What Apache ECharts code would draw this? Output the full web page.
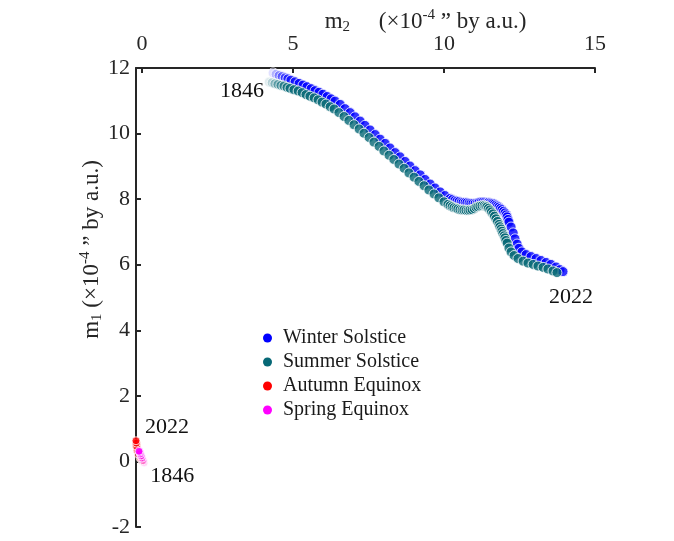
<!DOCTYPE html>
<html>
<head>
<meta charset="utf-8">
<title>Polar motion components m1 / m2</title>
<script src="https://cdn.jsdelivr.net/npm/echarts@6/dist/echarts.min.js"></script>
<style>
  html, body { margin: 0; padding: 0; background: #ffffff; }
  #chart { width: 674px; height: 541px; }
</style>
</head>
<body>
<div id="chart"></div>
<script>
// Solstice tracks, 1846 -> 2022 (m2, m1 in units of 1e-4 arcsec by a.u.)
var winterM2 = [4.34, 4.44, 4.54, 4.64, 4.74, 4.83, 4.93, 5.07, 5.20, 5.33, 5.46, 5.60, 5.73, 5.86, 5.99, 6.13, 6.26, 6.39,
  6.56, 6.72, 6.89, 7.05, 7.22, 7.38, 7.55, 7.72, 7.88, 8.05, 8.21, 8.38, 8.54, 8.71, 8.87, 9.04, 9.21, 9.37, 9.54, 9.70, 9.87, 10.03,
  10.20, 10.28, 10.36, 10.43, 10.50, 10.57, 10.63, 10.70, 10.76, 10.83, 10.89, 10.96, 11.03, 11.10, 11.16, 11.23, 11.29, 11.36,
  11.42, 11.47, 11.52, 11.57, 11.62, 11.67, 11.72, 11.77, 11.82, 11.87, 11.92, 11.97, 12.02, 12.06, 12.09, 12.12, 12.15,
  12.22, 12.29, 12.35, 12.42, 12.48, 12.58, 12.72, 12.88, 13.05, 13.21, 13.38, 13.54, 13.71, 13.84, 13.94];
var winterM1 = [11.85, 11.81, 11.77, 11.74, 11.70, 11.67, 11.63, 11.58, 11.53, 11.48, 11.43, 11.37, 11.31, 11.26, 11.20, 11.13, 11.06, 10.99,
  10.89, 10.76, 10.64, 10.51, 10.38, 10.25, 10.11, 9.97, 9.83, 9.70, 9.56, 9.42, 9.29, 9.15, 9.01, 8.87, 8.74, 8.60, 8.46, 8.34, 8.22, 8.11,
  8.02, 7.99, 7.96, 7.94, 7.93, 7.91, 7.90, 7.90, 7.89, 7.88, 7.87, 7.87, 7.87, 7.88, 7.90, 7.91, 7.91, 7.91,
  7.90, 7.90, 7.89, 7.88, 7.87, 7.85, 7.82, 7.79, 7.76, 7.72, 7.68, 7.63, 7.58, 7.52, 7.46, 7.38, 7.30,
  7.15, 6.97, 6.79, 6.63, 6.50, 6.39, 6.31, 6.25, 6.19, 6.13, 6.07, 6.01, 5.93, 5.85, 5.79];

var summerM2 = [4.21, 4.31, 4.40, 4.50, 4.60, 4.70, 4.80, 4.90, 5.03, 5.17, 5.30, 5.43, 5.56, 5.70, 5.83, 5.96, 6.09, 6.23, 6.36,
  6.52, 6.69, 6.85, 7.02, 7.19, 7.35, 7.52, 7.68, 7.85, 8.01, 8.18, 8.34, 8.51, 8.68, 8.84, 9.01, 9.17, 9.34, 9.50, 9.67, 9.83, 10.00,
  10.13, 10.20, 10.27, 10.33, 10.40, 10.46, 10.53, 10.60, 10.66, 10.73, 10.80, 10.86, 10.93, 11.00, 11.06, 11.12, 11.19, 11.26,
  11.33, 11.38, 11.42, 11.47, 11.52, 11.57, 11.62, 11.67, 11.72, 11.77, 11.82, 11.85, 11.89, 11.92, 11.95, 11.99, 12.02, 12.05, 12.09,
  12.15, 12.22, 12.32, 12.45, 12.62, 12.78, 12.95, 13.11, 13.28, 13.44, 13.61, 13.74];
var summerM1 = [11.57, 11.55, 11.52, 11.50, 11.47, 11.45, 11.41, 11.38, 11.34, 11.30, 11.25, 11.19, 11.14, 11.09, 11.03, 10.96, 10.90, 10.82, 10.75,
  10.64, 10.52, 10.40, 10.27, 10.14, 10.01, 9.88, 9.74, 9.61, 9.47, 9.34, 9.21, 9.07, 8.94, 8.80, 8.67, 8.54, 8.41, 8.28, 8.16, 8.04, 7.92,
  7.84, 7.80, 7.77, 7.74, 7.72, 7.70, 7.68, 7.67, 7.67, 7.66, 7.66, 7.67, 7.68, 7.71, 7.75, 7.77, 7.79, 7.80,
  7.80, 7.78, 7.76, 7.72, 7.67, 7.61, 7.55, 7.48, 7.40, 7.32, 7.23, 7.16, 7.09, 7.02, 6.95, 6.88, 6.82, 6.74, 6.66,
  6.51, 6.39, 6.28, 6.19, 6.11, 6.05, 6.01, 5.96, 5.92, 5.87, 5.81, 5.76];

// Equinox tracks, clustered near the origin
var autumnM2 = [0.06, 0.00, -0.06, -0.12, -0.16, -0.18, -0.19, -0.20];
var autumnM1 = [-0.02, 0.01, 0.10, 0.22, 0.34, 0.46, 0.56, 0.63];
var springM2 = [0.07, 0.04, 0.00, -0.03, -0.06, -0.08, -0.10];
var springM1 = [-0.05, 0.02, 0.10, 0.17, 0.23, 0.28, 0.31];

var seriesNames = ['Winter Solstice', 'Summer Solstice', 'Autumn Equinox', 'Spring Equinox'];
var xTicks = [0, 5, 10, 15];
var yTicks = [-2, 0, 2, 4, 6, 8, 10, 12];
var firstYear = '1846';
var lastYear = '2022';

var FONT = "'Times New Roman', 'Liberation Serif', serif";
var INK = '#262626';

function pairs(xs, ys) {
  return xs.map(function (x, i) { return [x, ys[i]]; });
}

// Early points are drawn faded, later ones fully opaque.
function fadingColor(rgb, step) {
  return function (p) {
    var a = Math.min(1, 0.15 + step * p.dataIndex);
    return 'rgba(' + rgb[0] + ',' + rgb[1] + ',' + rgb[2] + ',' + a.toFixed(3) + ')';
  };
}

function yearMark(xs, ys, idx, text, offset) {
  return {
    coord: [xs[idx], ys[idx]],
    label: { formatter: text, offset: offset }
  };
}

var markBase = {
  symbol: 'circle',
  symbolSize: 1,
  silent: true,
  itemStyle: { color: 'rgba(0,0,0,0)', borderWidth: 0 },
  label: { show: true, position: 'inside', fontSize: 22, fontFamily: FONT, color: '#111111' }
};

function scatter(name, xs, ys, rgb, size, step, marks) {
  var s = {
    name: name,
    type: 'scatter',
    clip: false,
    symbol: 'circle',
    symbolSize: size,
    data: pairs(xs, ys),
    itemStyle: {
      color: fadingColor(rgb, step),
      borderColor: '#ffffff',
      borderWidth: 1
    },
    emphasis: { disabled: true }
  };
  if (marks) {
    s.markPoint = Object.assign({}, markBase, { data: marks });
  }
  return s;
}

var colors = {
  winter: [0, 0, 255],
  summer: [6, 104, 118],
  autumn: [255, 0, 0],
  spring: [255, 0, 255]
};
function css(rgb) { return 'rgb(' + rgb.join(',') + ')'; }

var titleRich = {
  n: { fontSize: 23, fontFamily: FONT, color: INK, lineHeight: 27, verticalAlign: 'middle' },
  sub: { fontSize: 15, fontFamily: FONT, color: INK, lineHeight: 15, verticalAlign: 'bottom' },
  sup: { fontSize: 15, fontFamily: FONT, color: INK, lineHeight: 15, verticalAlign: 'top' }
};

function legendItem(name, rgb) {
  return { name: name, itemStyle: { color: css(rgb), borderWidth: 0, opacity: 1 } };
}

var chart = echarts.init(document.getElementById('chart'), null, { renderer: 'canvas' });

chart.setOption({
  animation: false,
  backgroundColor: '#ffffff',
  textStyle: { fontFamily: FONT },
  grid: { left: 136, right: 79, top: 68, bottom: 14, containLabel: false, outerBoundsMode: 'none' },
  legend: {
    orient: 'vertical',
    left: 258,
    top: 323,
    icon: 'circle',
    itemWidth: 9,
    itemHeight: 9,
    itemGap: 4,
    selectedMode: false,
    itemStyle: { borderWidth: 0 },
    textStyle: { fontSize: 20, fontFamily: FONT, color: '#1a1a1a', lineHeight: 20, padding: [0, 0, 0, 6] },
    data: [
      legendItem(seriesNames[0], colors.winter),
      legendItem(seriesNames[1], colors.summer),
      legendItem(seriesNames[2], colors.autumn),
      legendItem(seriesNames[3], colors.spring)
    ]
  },
  xAxis: {
    type: 'value',
    position: 'top',
    min: -0.2,
    max: 15,
    splitLine: { show: false },
    axisLine: { show: true, onZero: false, lineStyle: { color: INK, width: 2 } },
    axisTick: { show: true, inside: true, length: 5, customValues: xTicks, lineStyle: { color: INK, width: 2 } },
    axisLabel: { customValues: xTicks, fontSize: 22, fontFamily: FONT, color: INK, margin: 13 },
    name: '{n|m}{sub|2}{n|     (×10}{sup|-4}{n| ” by a.u.)}',
    nameLocation: 'middle',
    nameGap: 33,
    nameMoveOverlap: false,
    nameTextStyle: { rich: titleRich, padding: [0, 0, 0, 120] }
  },
  yAxis: {
    type: 'value',
    min: -2,
    max: 12,
    interval: 2,
    splitLine: { show: false },
    axisLine: { show: true, onZero: false, lineStyle: { color: INK, width: 2 } },
    axisTick: { show: true, inside: true, length: 5, customValues: yTicks, lineStyle: { color: INK, width: 2 } },
    axisLabel: { customValues: yTicks, fontSize: 22, fontFamily: FONT, color: INK, margin: 6 },
    name: '{n|m}{sub|1}{n| (×10}{sup|-4}{n| ” by a.u.)}',
    nameLocation: 'middle',
    nameGap: 31,
    nameMoveOverlap: false,
    nameTextStyle: { rich: titleRich, padding: [0, 0, 0, 96] }
  },
  series: [
    scatter(seriesNames[0], winterM2, winterM1, colors.winter, 10, 0.11, [
      yearMark(winterM2, winterM1, 0, firstYear, [-31, 18]),
      yearMark(winterM2, winterM1, winterM2.length - 1, lastYear, [8, 26])
    ]),
    scatter(seriesNames[1], summerM2, summerM1, colors.summer, 10, 0.11, null),
    scatter(seriesNames[2], autumnM2, autumnM1, colors.autumn, 8, 0.15, [
      yearMark(autumnM2, autumnM1, autumnM2.length - 1, lastYear, [31, -14])
    ]),
    scatter(seriesNames[3], springM2, springM1, colors.spring, 8, 0.15, [
      yearMark(springM2, springM1, 0, firstYear, [28, 13])
    ])
  ]
});
</script>
</body>
</html>
